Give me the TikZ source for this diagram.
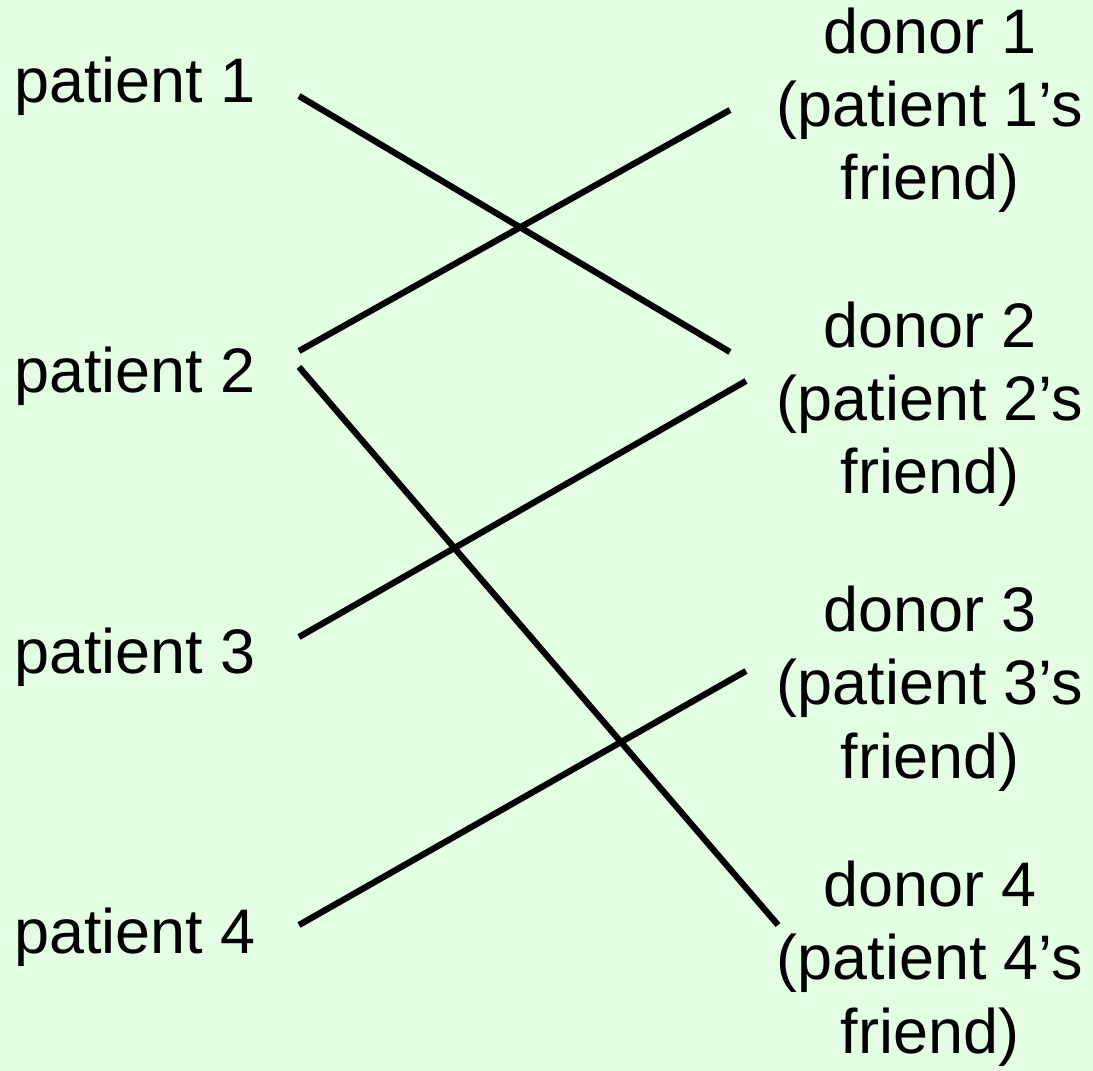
\documentclass[tikz,border=0pt]{standalone}
\usepackage{fontspec}
\setmainfont{Liberation Sans}
\usepackage{tikz}
\usetikzlibrary{calc}

\definecolor{bggreen}{RGB}{227,254,227}

\tikzset{
  patient/.style={anchor=base west, inner sep=0pt},
  donor/.style={anchor=base, align=center, inner sep=0pt},
  link/.style={line width=0.125cm, black}
}

\begin{document}
\begin{tikzpicture}[x=0.02cm, y=-0.02cm,
    every node/.style={font=\fontsize{35.8pt}{41.8pt}\selectfont}]
  \fill[bggreen] (0,0) rectangle (1093,1071);
  \useasboundingbox (0,0) rectangle (1093,1071);

  \node[patient] (p1) at (14,103) {patient 1};
  \node[patient] (p2) at (14,393) {patient 2};
  \node[patient] (p3) at (14,673) {patient 3};
  \node[patient] (p4) at (14,953) {patient 4};

  % base anchor sits on the last line
  \node[donor] (d1) at (930,200)  {donor 1\\(patient 1’s\\friend)};
  \node[donor] (d2) at (930,494)  {donor 2\\(patient 2’s\\friend)};
  \node[donor] (d3) at (930,778)  {donor 3\\(patient 3’s\\friend)};
  \node[donor] (d4) at (930,1053) {donor 4\\(patient 4’s\\friend)};

  \draw[link] ($(p1.base east)+(43,-7)$)  -- ($(d2.base)+(-200,-142)$);
  \draw[link] ($(p2.base east)+(43,-42)$) -- ($(d1.base)+(-200,-90)$);
  \draw[link] ($(p2.base east)+(43,-26)$) -- ($(d4.base)+(-152,-128)$);
  \draw[link] ($(p3.base east)+(43,-36)$) -- ($(d2.base)+(-184,-113)$);
  \draw[link] ($(p4.base east)+(43,-28)$) -- ($(d3.base)+(-184,-107)$);
\end{tikzpicture}
\end{document}
